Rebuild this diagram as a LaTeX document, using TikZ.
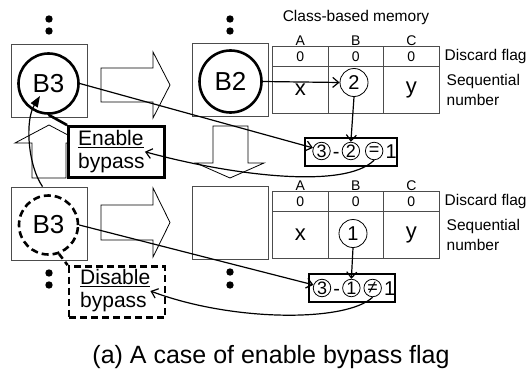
\documentclass[tikz,border=0pt]{standalone}
\usepackage{fontspec}
\setmainfont{Liberation Sans}
\usetikzlibrary{matrix,positioning,arrows.meta}

\tikzset{
  sq/.style={draw=black!70, fill=white, line width=0.8pt, minimum width=76pt, minimum height=73pt},
  blk/.style={circle, draw, line width=2.6pt, minimum size=60pt, inner sep=0pt, font=\fontsize{26}{26}\selectfont},
  hollow/.style={draw, fill=white, line width=0.8pt},
  lbl/.style={inner sep=0pt, font=\fontsize{15.5}{20}\selectfont},
  tcirc/.style={circle, draw, line width=0.8pt, minimum size=28pt, inner sep=0pt, font=\fontsize{20}{20}\selectfont},
  rbox/.style={draw, line width=1.8pt, minimum width=92pt, minimum height=28pt},
  rcirc/.style={circle, draw, line width=0.8pt, minimum size=17.5pt, inner sep=0pt, font=\fontsize{18}{18}\selectfont},
  rtxt/.style={inner xsep=2pt, inner ysep=0pt, text height=14pt, text depth=0pt, font=\fontsize{20}{20}\selectfont},
  bybox/.style={draw, fill=white, line width=2.8pt, minimum width=96pt, minimum height=51pt},
  bytxt/.style={inner sep=0pt, align=left, anchor=west, font=\fontsize{21}{23}\selectfont},
  conn/.style={line width=1.2pt, -{Straight Barb[length=6pt,width=10pt]}},
  mem/.style={matrix of nodes, inner sep=0pt, anchor=south west, column sep=-0.8pt, row sep=-0.8pt,
    nodes={draw=black!70, line width=0.8pt, minimum width=55.5pt, anchor=center, inner sep=0pt, font=\fontsize{14}{14}\selectfont},
    row 1/.style={nodes={draw=none, minimum height=13pt}},
    row 2/.style={nodes={minimum height=20pt}},
    row 3/.style={nodes={minimum height=47pt, font=\fontsize{22}{22}\selectfont}}}
}

\begin{document}
\begin{tikzpicture}[x=1pt, y=-1pt]
  \useasboundingbox (0,0) rectangle (526,369);
  \foreach \x/\y in {49/19, 49/31, 230/19, 230/31, 49/273, 49/285, 230/272, 230/285}
    \fill (\x,\y) circle (3.7pt);
  \node[sq] (tsq1) at (49,80.5) {};
  \node[sq] (tsq2) at (230,79.5) {};
  \node[sq] (bsq1) at (49,223.5) {};
  \node[sq] (bsq2) at (230,222.5) {};
  \draw[hollow] (101,68) -- (153,68) -- (153,52) -- (170,85) -- (153,118) -- (153,102) -- (101,102) -- cycle;
  \draw[hollow] (101,205) -- (153,205) -- (153,188) -- (170,222.5) -- (153,257) -- (153,240) -- (101,240) -- cycle;
  \draw[hollow] (213,126) -- (248,126) -- (248,163) -- (264,163) -- (230,178) -- (196,163) -- (213,163) -- cycle;
  \draw[hollow] (32,178) -- (32,143) -- (15,143) -- (49,125) -- (83,143) -- (66,143) -- (66,178) -- cycle;
  \node[blk] (tB3) at (48.5,83.5) {B3};
  \node[blk, minimum size=62pt] (tB2) at (230.5,81.5) {B2};
  \node[blk, dash pattern=on 7pt off 4pt, minimum size=59pt] (bB3) at (48.5,225) {B3};
  \coordinate (tin) at (40,96);

  \matrix[mem] (tm) at (272,114) {
    A & B & C \\
    0 & 0 & 0 \\
    x & ~ & y \\
  };
  \matrix[mem] (bm) at (272,259) {
    A & B & C \\
    0 & 0 & 0 \\
    x & ~ & y \\
  };
  \node[lbl] (tcap) at (356,17) {Class-based memory};
  \node[lbl, right=5pt of tm-2-3] (tdf) {Discard flag};
  \node[lbl, align=left, right=7pt of tm-3-3] (tsn) {Sequential\\number};
  \node[lbl, right=5pt of bm-2-3] (bdf) {Discard flag};
  \node[lbl, align=left, right=7pt of bm-3-3] (bsn) {Sequential\\number};
  \node[tcirc] (tm2) at (354,82.5) {2};
  \node[tcirc] (bm1) at (353,233.5) {1};

  \node[rbox] (tres) at (351,152) {};
  \node[rcirc] (ta3) at (321.5,151) {3};
  \node[rtxt, right=0pt of ta3] (tdash) {-};
  \node[rcirc, right=0pt of tdash] (ta2) {2};
  \node[rcirc, right=5pt of ta2] (teq) {=};
  \node[rtxt, right=0pt of teq] (tone) {1};
  \node[rbox, minimum width=86pt] (bres) at (352,288) {};
  \node[rcirc] (ba3) at (322,288) {3};
  \node[rtxt, right=0pt of ba3] (bdash) {-};
  \node[rcirc, right=0pt of bdash] (ba1) {1};
  \node[rcirc, right=3pt of ba1] (bne) {≠};
  \node[rtxt, right=0pt of bne] (bone) {1};

  \node[bybox] (enb) at (116.5,152) {};
  \node[bytxt] (entxt) at (78,151.75) {\underline{Enable}\\bypass};
  \node[bybox, dash pattern=on 7pt off 4pt] (dsb) at (117,292) {};
  \node[bytxt] (dstxt) at (80,291) {\underline{Disable}\\bypass};

  \draw[line width=2.6pt] (tB3.south) -- (enb.north west);
  \draw[line width=2.6pt, dash pattern=on 6pt off 4pt] (bB3.-70) -- (dsb.north west);
  \draw[conn] (tB3.east) -- (ta3.160);
  \draw[conn] (tB2.east) -- (tm2.west);
  \draw[conn] (tm2.south) -- (ta2.north);
  \draw[conn] (teq.south) .. controls +(-30,30) and +(84,23) .. (entxt.east);
  \draw[conn] (bB3.east) -- (ba3.160);
  \draw[conn] (bm1.south) -- (ba1.north);
  \draw[conn] (bne.south) .. controls +(-26,25) and +(82,31) .. (dstxt.east);
  \draw[line width=1.2pt, -{Triangle[length=11pt,width=8pt]}] (bsq1.100) .. controls +(-15,-22) and +(-15,24) .. (tin);

  \node[font=\fontsize{25}{25}\selectfont, anchor=base] (cap) at (271,363) {(a) A case of enable bypass flag};
\end{tikzpicture}
\end{document}
